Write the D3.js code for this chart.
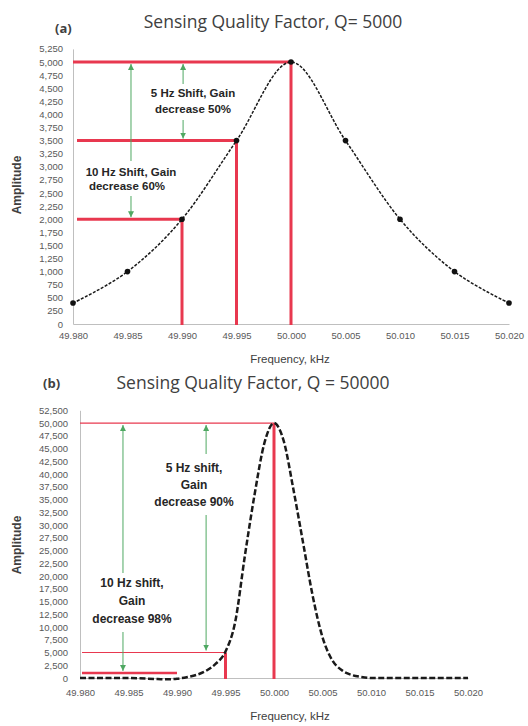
<!DOCTYPE html>
<html>
<head>
<meta charset="utf-8">
<script src="https://cdn.jsdelivr.net/npm/d3@7"></script>
<style>
  body { margin: 0; background: #fff; }
  svg { display: block; }
</style>
</head>
<body>
<div id="chart"></div>
<script>
// ---- data ----
const freqTicks = [49.980, 49.985, 49.990, 49.995, 50.000, 50.005, 50.010, 50.015, 50.020];
const freqLabels = ["49.980", "49.985", "49.990", "49.995", "50.000", "50.005", "50.010", "50.015", "50.020"];

// Q = 5000 (measured points)
const freqA = [49.980, 49.985, 49.990, 49.995, 50.000, 50.005, 50.010, 50.015, 50.020];
const ampA = [400, 1000, 2000, 3500, 5000, 3500, 2000, 1000, 400];
const yTicksA = [0, 250, 500, 750, 1000, 1250, 1500, 1750, 2000, 2250, 2500, 2750, 3000,
  3250, 3500, 3750, 4000, 4250, 4500, 4750, 5000, 5250];
const markFreqA = [50.000, 49.995, 49.990];
const markAmpA = [5000, 3500, 2000];
const notesA = [["10 Hz Shift, Gain", "decrease 60%"], ["5 Hz Shift, Gain", "decrease 50%"]];

// Q = 50000 (curve)
const freqB = [49.980, 49.985, 49.988, 49.989, 49.990, 49.991, 49.992, 49.993, 49.994, 49.995,
  49.996, 49.997, 49.998, 49.999, 50.000, 50.001, 50.002, 50.003, 50.004, 50.005,
  50.006, 50.007, 50.008, 50.009, 50.010, 50.012, 50.015, 50.020];
const ampB = [0, 0, -200, -250, -150, 150, 600, 1400, 2800, 5200,
  11000, 24000, 36000, 46000, 50000, 46500, 37000, 26500, 16000, 8000,
  3500, 1500, 600, 200, 0, 0, 0, 0];
const yTicksB = [0, 2500, 5000, 7500, 10000, 12500, 15000, 17500, 20000, 22500, 25000, 27500,
  30000, 32500, 35000, 37500, 40000, 42500, 45000, 47500, 50000, 52500];
const markFreqB = [50.000, 49.995, 49.990];
const markAmpB = [50000, 5000, 1000];
const notesB = [["10 Hz shift,", "Gain", "decrease 98%"], ["5 Hz shift,", "Gain", "decrease 90%"]];

// ---- layout ----
const W = 528, H = 726;
const RED = "#e8384f", GREEN = "#4fa862", TXT = "#404040";
const FONT = "'Liberation Sans', Arial, sans-serif";

const svg = d3.select("#chart").append("svg")
  .attr("width", W).attr("height", H);

const defs = svg.append("defs");
["up", "down"].forEach(dir => {
  defs.append("marker")
    .attr("id", "arrow-" + dir)
    .attr("viewBox", "0 0 6 6")
    .attr("refX", 3).attr("refY", dir === "up" ? 0 : 6)
    .attr("markerWidth", 6).attr("markerHeight", 6)
    .attr("markerUnits", "userSpaceOnUse")
    .append("path")
    .attr("d", dir === "up" ? "M0,6 L3,0 L6,6 Z" : "M0,0 L3,6 L6,0 Z")
    .attr("fill", GREEN);
});

function panel(cfg) {
  const x = d3.scaleLinear().domain([49.980, 50.020]).range([cfg.left, cfg.right]);
  const y = d3.scaleLinear().domain([0, cfg.yMax]).range([cfg.bottom, cfg.top]);
  const g = svg.append("g");

  // titles
  g.append("text")
    .attr("x", cfg.titleX).attr("y", cfg.titleY)
    .attr("text-anchor", "middle")
    .style("font-family", "'Open Sans', sans-serif")
    .style("font-size", cfg.titleSize)
    .style("fill", TXT)
    .text(cfg.title);
  g.append("text")
    .attr("x", cfg.tagX).attr("y", cfg.titleY + cfg.tagDy)
    .style("font-family", "'Open Sans', sans-serif")
    .style("font-size", "13px")
    .style("font-weight", "bold")
    .style("fill", TXT)
    .text(cfg.tag);

  // axes
  const xAxis = g.append("g")
    .attr("transform", `translate(0,${cfg.bottom})`)
    .call(d3.axisBottom(x).tickValues(freqTicks)
      .tickFormat((d, i) => freqLabels[i]).tickSize(0).tickPadding(cfg.xPad));
  const yAxis = g.append("g")
    .attr("transform", `translate(${cfg.left},0)`)
    .call(d3.axisLeft(y).tickValues(cfg.yTicks)
      .tickFormat(d3.format(",")).tickSize(0).tickPadding(cfg.yPad));
  [xAxis, yAxis].forEach(a => {
    a.select(".domain").attr("stroke", "#bfbfbf").attr("stroke-width", 1);
    a.selectAll(".tick text")
      .style("font-family", FONT)
      .style("font-size", "9.5px")
      .style("fill", "#595959");
  });

  // axis labels
  g.append("text")
    .attr("x", cfg.xLabelX).attr("y", cfg.xLabelY)
    .attr("text-anchor", "middle")
    .style("font-family", FONT).style("font-size", "11.5px")
    .style("fill", TXT)
    .text("Frequency, kHz");
  g.append("text")
    .attr("transform", `translate(${cfg.yLabelX},${cfg.yLabelY}) rotate(-90)`)
    .attr("text-anchor", "middle")
    .style("font-family", FONT).style("font-size", "12px")
    .style("font-weight", "bold")
    .style("fill", TXT)
    .text("Amplitude");

  // red guide lines
  const red = g.append("g");
  cfg.markFreq.forEach((f, i) => {
    const a = cfg.markAmp[i];
    red.append("line")
      .attr("x1", cfg.left + cfg.hStart[i]).attr("x2", x(f))
      .attr("y1", y(a)).attr("y2", y(a))
      .attr("stroke", RED).attr("stroke-width", cfg.hWidth[i]);
    if (cfg.vLine[i]) {
      red.append("line")
        .attr("x1", x(f)).attr("x2", x(f))
        .attr("y1", y(a)).attr("y2", cfg.bottom + 1)
        .attr("stroke", RED).attr("stroke-width", 3);
    }
  });

  // green arrows + notes
  cfg.arrows.forEach((ar, i) => {
    const ax = x(ar.f);
    g.append("line")
      .attr("x1", ax).attr("x2", ax)
      .attr("y1", y(ar.topAmp) + 2).attr("y2", ar.gapTop)
      .attr("stroke", GREEN).attr("stroke-width", 1)
      .attr("marker-start", "url(#arrow-up)");
    g.append("line")
      .attr("x1", ax).attr("x2", ax)
      .attr("y1", ar.gapBottom).attr("y2", y(ar.botAmp) - 2)
      .attr("stroke", GREEN).attr("stroke-width", 1)
      .attr("marker-end", "url(#arrow-down)");
    cfg.notes[i].forEach((line, j) => {
      g.append("text")
        .attr("x", ar.textX[j]).attr("y", ar.textY + j * ar.lineH)
        .attr("text-anchor", "middle")
        .style("font-family", FONT).style("font-size", cfg.noteSize)
        .style("font-weight", "bold")
        .style("fill", "#262626")
        .text(line);
    });
  });

  // response curve
  const line = d3.line()
    .x((d, i) => x(cfg.freq[i]))
    .y(d => y(d))
    .curve(cfg.curve);
  g.append("path")
    .datum(cfg.amp)
    .attr("d", line)
    .attr("fill", "none")
    .attr("stroke", "#1a1a1a")
    .attr("stroke-width", cfg.lineW)
    .attr("stroke-dasharray", cfg.dash);

  if (cfg.dots) {
    g.selectAll(".dot")
      .data(cfg.amp)
      .enter().append("circle")
      .attr("cx", (d, i) => x(cfg.freq[i]))
      .attr("cy", d => y(d))
      .attr("r", 2.8)
      .attr("fill", "#111");
  }
}

panel({
  left: 73, right: 509, top: 48.9, bottom: 324, yMax: 5250,
  yTicks: yTicksA, freq: freqA, amp: ampA, markFreq: markFreqA, markAmp: markAmpA,
  hWidth: [3, 3, 3], hStart: [0, 4, 4], vLine: [true, true, true],
  title: "Sensing Quality Factor, Q= 5000", titleX: 273, titleY: 28, titleSize: "17.5px",
  tag: "(a)", tagX: 55, tagDy: 5,
  xPad: 8, yPad: 10, xLabelX: 290, xLabelY: 363, yLabelX: 21, yLabelY: 185,
  lineW: 1.5, dash: "3,1.5", dots: true, curve: d3.curveCardinal.tension(0),
  notes: notesA, noteSize: "11.5px",
  arrows: [
    { f: 49.98532, topAmp: 5000, botAmp: 2000, gapTop: 161, gapBottom: 196, textX: [131, 127], textY: 176, lineH: 14 },
    { f: 49.9901, topAmp: 5000, botAmp: 3500, gapTop: 84, gapBottom: 120, textX: [193, 193], textY: 97, lineH: 16 }
  ]
});

panel({
  left: 80, right: 468, top: 410.3, bottom: 678, yMax: 52500,
  yTicks: yTicksB, freq: freqB, amp: ampB, markFreq: markFreqB, markAmp: markAmpB,
  hWidth: [1.2, 1.2, 2.5], hStart: [0, 2, 2], vLine: [true, true, false],
  title: "Sensing Quality Factor, Q = 50000", titleX: 253, titleY: 389, titleSize: "17.5px",
  tag: "(b)", tagX: 43, tagDy: -1,
  xPad: 11, yPad: 12, xLabelX: 290, xLabelY: 720, yLabelX: 21, yLabelY: 545,
  lineW: 2.5, dash: "6,2.5", dots: false, curve: d3.curveMonotoneX,
  notes: notesB, noteSize: "12px",
  arrows: [
    { f: 49.98443, topAmp: 50000, botAmp: 1000, gapTop: 573, gapBottom: 632, textX: [132, 132, 132], textY: 587, lineH: 18 },
    { f: 49.9930, topAmp: 50000, botAmp: 5000, gapTop: 454, gapBottom: 515, textX: [194, 194, 194], textY: 472, lineH: 17 }
  ]
});
</script>
</body>
</html>
